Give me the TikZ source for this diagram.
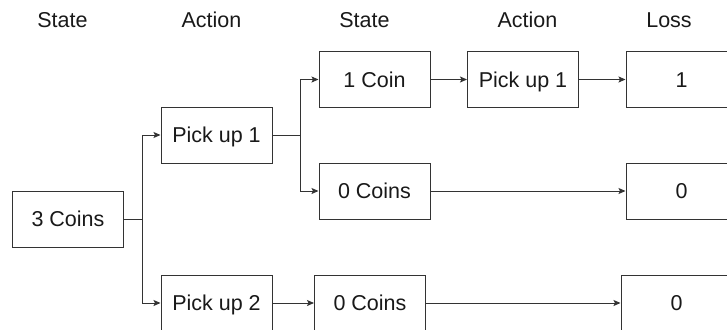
\documentclass[tikz,border=0pt]{standalone}
\usepackage{fontspec}
\setmainfont{Liberation Sans}
\usetikzlibrary{arrows.meta, positioning}

\definecolor{linegray}{HTML}{333333}

\begin{document}
\begin{tikzpicture}[x=1pt, y=-1pt,
    every node/.style = {font=\fontsize{21.5}{26}\selectfont, text=black!90, text height=15.4pt, text depth=0pt},
    stepbox/.style = {draw=linegray, line width=1pt, minimum width=111pt, minimum height=56pt, inner sep=0pt},
    link/.style = {draw=linegray, line width=1pt, -{Stealth[length=7pt, width=6pt, inset=1.5pt]}}]
    \useasboundingbox (0,0) rectangle (727,329);
    \clip (0,0) rectangle (727,329);
    % column titles
    \node (T1) at (62.5,20) {State};
    \node (T2) at (211.5,20) {Action};
    \node (T3) at (364.5,20) {State};
    \node (T4) at (527.5,20) {Action};
    \node (T5) at (669,20) {Loss};
    % boxes
    \node[stepbox] (S3) at (68,219) {3 Coins};
    \node[stepbox] (A1) at (216.5,135) {Pick up 1};
    \node[stepbox] (A2) at (216.5,303) {Pick up 2};
    \node[stepbox] (S1) at (374.5,79.5) {1 Coin};
    \node[stepbox] (S0) at (374.5,191) {0 Coins};
    \node[stepbox] (S0b) at (370,303) {0 Coins};
    \node[stepbox] (A11) at (523,79.5) {Pick up 1};
    \node[stepbox] (L1) at (681.5,79.5) {1};
    \node[stepbox] (L0) at (681.5,191) {0};
    \node[stepbox] (L0b) at (676.5,303) {0};
    % branch points
    \coordinate (J1) at (142,219);
    \coordinate (J2) at (300,135);
    \draw[link] (S3.east) -- (J1) |- (A1.west);
    \draw[link] (J1) |- (A2.west);
    \draw[link] (A1.east) -- (J2) |- (S1.west);
    \draw[link] (J2) |- (S0.west);
    \draw[link] (S1) -- (A11);
    \draw[link] (A11) -- (L1);
    \draw[link] (S0) -- (L0);
    \draw[link] (A2) -- (S0b);
    \draw[link] (S0b) -- (L0b);
\end{tikzpicture}
\end{document}
